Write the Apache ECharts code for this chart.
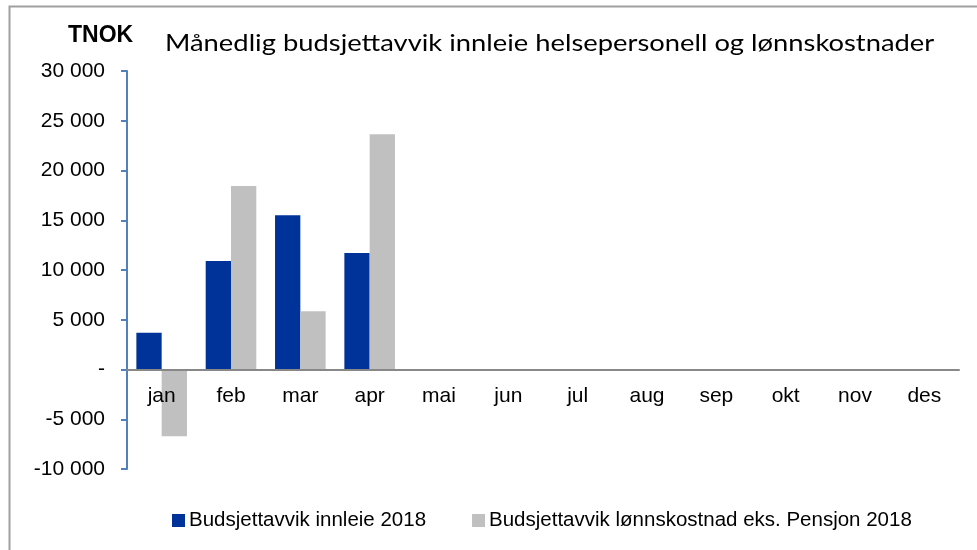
<!DOCTYPE html>
<html>
<head>
<meta charset="utf-8">
<script src="https://cdn.jsdelivr.net/npm/echarts@6/dist/echarts.min.js"></script>
<style>
  html, body { margin: 0; padding: 0; background: #fff; }
  #chart { width: 977px; height: 550px; }
</style>
</head>
<body>
<div id="chart"></div>
<script>
// data (TNOK)
var months = ['jan', 'feb', 'mar', 'apr', 'mai', 'jun', 'jul', 'aug', 'sep', 'okt', 'nov', 'des'];
var innleie = [3700, 10900, 15500, 11700, null, null, null, null, null, null, null, null];
var lonnskostnad = [-6700, 18450, 5850, 23650, null, null, null, null, null, null, null, null];
var seriesNames = ['Budsjettavvik innleie 2018', 'Budsjettavvik lønnskostnad eks. Pensjon 2018'];

var myChart = echarts.init(document.getElementById('chart'));

// 30 000 / - for zero
function fmt(v) {
  if (v === 0) return '-';
  var s = String(Math.abs(v)).replace(/\B(?=(\d{3})+(?!\d))/g, ' ');
  return (v < 0 ? '-' : '') + s;
}

var arial = '"Liberation Sans", Arial, sans-serif';
var yMin = -10000, yMax = 30000;
var gridTop = 71, gridBottom = 81, chartH = 550;
// put the category axis (line + labels) on the zero line
var plotH = chartH - gridTop - gridBottom;
var zeroOffset = -plotH * (0 - yMin) / (yMax - yMin);

var option = {
  animation: false,
  backgroundColor: '#fff',
  graphic: [
    {
      type: 'rect',
      shape: { x: 9.5, y: 6.5, width: 1000, height: 600 },
      style: { fill: 'none', stroke: '#a0a0a0', lineWidth: 2 }
    },
    {
      type: 'text', x: 68, y: 24,
      style: { text: 'TNOK', fontFamily: arial, fontWeight: 'bold', fontSize: 23, fill: '#000' }
    },
    {
      type: 'text', x: 165, y: 31, scaleX: 1.14,
      style: { text: 'Månedlig budsjettavvik innleie helsepersonell og lønnskostnader', fontFamily: 'Lato, "Open Sans", sans-serif', fontSize: 24, fill: '#000' }
    }
  ],
  legend: {
    top: 505,
    left: 167,
    itemWidth: 13,
    itemHeight: 13,
    itemGap: 46,
    icon: 'rect',
    textStyle: { fontFamily: arial, fontSize: 20.5, color: '#000', padding: [0, 0, 0, -1] },
    data: seriesNames
  },
  grid: { left: 127, right: 18, top: gridTop, bottom: gridBottom, containLabel: false },
  xAxis: {
    type: 'category',
    data: months,
    offset: zeroOffset,
    z: 10,
    axisLine: { onZero: false, lineStyle: { color: '#888', width: 2 } },
    axisTick: { show: false },
    axisLabel: { color: '#000', fontFamily: arial, fontSize: 21, margin: 16 }
  },
  yAxis: {
    type: 'value',
    min: yMin,
    max: yMax,
    interval: 5000,
    splitLine: { show: false },
    axisLine: { show: true, lineStyle: { color: '#4f81bd', width: 2 } },
    axisTick: { show: true, length: 6, lineStyle: { color: '#4f81bd', width: 2 } },
    axisLabel: {
      color: '#000', fontFamily: arial, fontSize: 21, margin: 22,
      formatter: fmt
    }
  },
  series: [
    {
      name: seriesNames[0], type: 'bar', data: innleie,
      barGap: 0, barCategoryGap: '27%',
      itemStyle: { color: '#003399' }
    },
    {
      name: seriesNames[1], type: 'bar', data: lonnskostnad,
      barGap: 0, barCategoryGap: '27%',
      itemStyle: { color: '#c0c0c0' }
    }
  ]
};

myChart.setOption(option);
</script>
</body>
</html>
